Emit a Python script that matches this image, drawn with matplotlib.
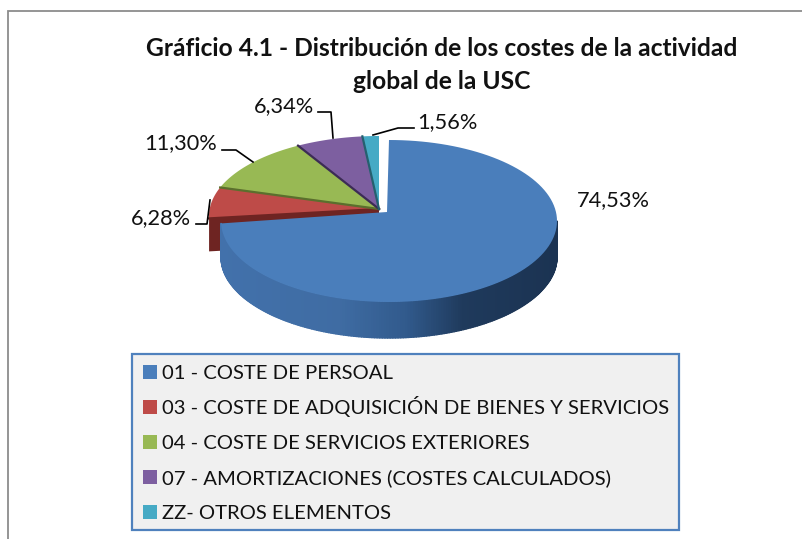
import numpy as np
import matplotlib
matplotlib.use("Agg")
import matplotlib.pyplot as plt
from matplotlib.patches import Polygon, Rectangle
from matplotlib.collections import PolyCollection
from matplotlib.colors import to_rgb

plt.rcParams["font.family"] = ["Lato", "DejaVu Sans"]

# Data
categories = [
    "01 - COSTE DE PERSOAL",
    "03 - COSTE DE ADQUISICIÓN DE BIENES Y SERVICIOS",
    "04 - COSTE DE SERVICIOS EXTERIORES",
    "07 - AMORTIZACIONES (COSTES CALCULADOS)",
    "ZZ- OTROS ELEMENTOS",
]
values = [74.53, 6.28, 11.30, 6.34, 1.56]
value_labels = ["74,53%", "6,28%", "11,30%", "6,34%", "1,56%"]
title = "Gráficio 4.1 - Distribución de los costes de la actividad\nglobal de la USC"

colors = ["#4a7ebb", "#be4b48", "#98b954", "#7d5fa0", "#46aac5"]
edge_dark = ["#264a75", "#6e2422", "#5b6f2d", "#3c2c55", "#25606f"]

# pixel positions for the labels and their leader lines
label_pos = [(613, 200), (161, 218), (181, 143), (284, 106), (447, 122)]
leaders = [
    None,
    [(196, 224), (207, 224), (210, 200)],
    [(222, 150), (236, 150), (253, 162)],
    [(318, 112), (331, 112), (333, 138)],
    [(373, 135), (398, 128), (414, 128)],
]

fig = plt.figure(figsize=(8.03, 5.39), dpi=100)
ax = fig.add_axes([0, 0, 1, 1])
ax.set_xlim(0, 803)
ax.set_ylim(539, 0)
ax.axis("off")

# outer frame, only top and left are in the picture
ax.plot([8, 8, 803], [539, 11, 11], color="#8c8c8c", lw=1.3, solid_joinstyle="miter")


def arc(cx, cy, rx, ry, a0, a1, n=120):
    t = np.radians(np.linspace(a0, a1, n))
    return np.column_stack([cx + rx * np.cos(t), cy - ry * np.sin(t)])


# slice angles, clockwise from 12 o'clock
fractions = np.array(values) / np.sum(values)
ends = 90 - 360 * np.cumsum(fractions)
starts = np.concatenate([[90], ends[:-1]])

depth = 36

# small slices, pulled away from the big one
apex = (379, 209)
center = (379, 216)
rx, ry = 170, 80
for i in range(1, len(values)):
    a0, a1 = starts[i] + 360, ends[i] + 360
    corner = arc(*center, rx, ry, a0, a0, 1)[0]
    if i == 1:
        # cut face of the red slice shows below the rim
        face = [apex, tuple(corner), (corner[0], corner[1] + depth - 3), (apex[0], apex[1] + depth - 3)]
        ax.add_patch(Polygon(face, closed=True, fc=edge_dark[i], ec="none", zorder=2))
    pts = np.vstack([[apex], arc(*center, rx, ry, a0, a1)])
    ax.add_patch(Polygon(pts, closed=True, fc=colors[i], ec="none", zorder=3))
    ax.plot([apex[0], corner[0]], [apex[1], corner[1]], color=edge_dark[i], lw=1.6, zorder=4)

# big slice, side wall first
b_apex = (387, 212)
b_c = (389, 221)
b_rx, b_ry = 168, 81
t = np.linspace(ends[0] + 360, 360, 200)
rim = arc(*b_c, b_rx, b_ry, t[0], t[-1], len(t))
stops_x = [0.0, 0.35, 0.55, 0.72, 1.0]
stops_c = ["#4271ab", "#3f6ca3", "#315a8c", "#1f3a5c", "#1b3352"]
stops_rgb = np.array([to_rgb(c) for c in stops_c])
quads = []
quad_cols = []
for p, q in zip(rim[:-1], rim[1:]):
    quads.append([p, q, (q[0], q[1] + depth), (p[0], p[1] + depth)])
    f = (p[0] - rim[:, 0].min()) / np.ptp(rim[:, 0])
    quad_cols.append([np.interp(f, stops_x, stops_rgb[:, k]) for k in range(3)])
ax.add_collection(PolyCollection(quads, facecolors=quad_cols, edgecolors=quad_cols, lw=1.0, zorder=5))

top = np.vstack([[b_apex], arc(*b_c, b_rx, b_ry, 90, ends[0])])
ax.add_patch(Polygon(top, closed=True, fc=colors[0], ec="none", zorder=6))

# value labels and leaders
for pos, lab, lead in zip(label_pos, value_labels, leaders):
    ax.text(pos[0], pos[1], lab, ha="center", va="center", fontsize=15.7, color="#111111", zorder=8)
    if lead is not None:
        xs, ys = zip(*lead)
        ax.plot(xs, ys, color="black", lw=1.2, zorder=7)

ax.text(442, 65, title, ha="center", va="center", fontsize=17.75, fontweight="bold",
        color="#111111", linespacing=1.5)

# legend, drawn by hand because the box is wider than the entries need
ax.add_patch(Rectangle((132, 354), 547, 176, fc="#f0f0f0", ec="#4f81bd", lw=1.6, zorder=1))
legend_y = [372, 407, 442, 477, 512]
for y, name, col in zip(legend_y, categories, colors):
    ax.add_patch(Rectangle((143, y - 7), 14, 14, fc=col, ec="none", zorder=2))
    ax.text(162, y + 7, name, ha="left", va="baseline", fontsize=14.6, color="#111111", zorder=3)

fig.savefig("out.png", dpi=100)
